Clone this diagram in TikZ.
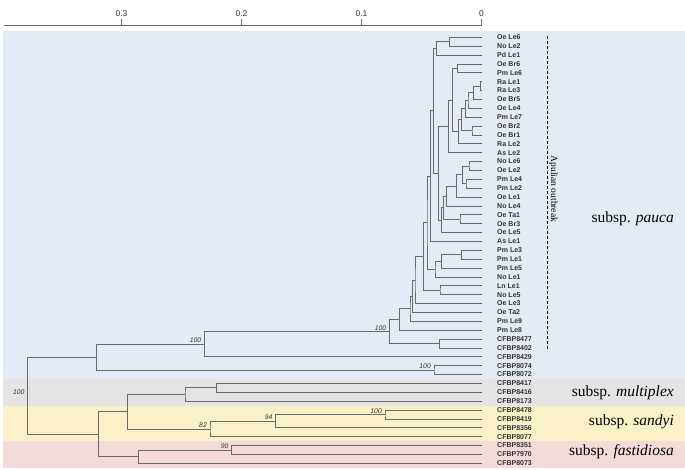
\documentclass[tikz,border=0pt]{standalone}
\usepackage{fontspec}
\setmainfont{Liberation Serif}
\setsansfont{Liberation Sans}
\usepackage{tikz}
\usetikzlibrary{calc}
\definecolor{paucablue}{HTML}{E4EBF7}
\definecolor{multigray}{HTML}{E4E4E4}
\definecolor{sandyellow}{HTML}{FAF1C9}
\definecolor{fastpink}{HTML}{F4DADA}
\definecolor{branchgray}{HTML}{6A6A6A}
\definecolor{labelgray}{HTML}{333333}
\tikzset{
  branch/.style={draw=branchgray, line width=0.8pt},
  leaf/.style={anchor=west, inner sep=0pt, text=labelgray,
    font=\sffamily\bfseries\fontsize{7}{7}\selectfont},
  boot/.style={anchor=south east, inner sep=1pt, xshift=-2pt, text=labelgray,
    font=\sffamily\itshape\fontsize{6.8}{7}\selectfont},
  subsp/.style={anchor=east, inner sep=0pt, font=\fontsize{15.5}{17}\selectfont},
  axis/.style={draw=branchgray, line width=0.8pt},
  axislab/.style={text=labelgray, inner sep=2pt, font=\sffamily\fontsize{8.5}{9}\selectfont},
  outbreak/.style={draw=black, line width=0.8pt, dash pattern=on 3pt off 2pt}
}
% clade: name, x of the node, upper child, lower child
\newcommand{\clade}[4]{%
  \path (#3) -- coordinate (#1m) (#4);
  \coordinate (#1) at (#1m -| #2,0);
  \draw[branch] (#3) -| (#1) |- (#4);}

\begin{document}
\begin{tikzpicture}[x=1pt, y=-1pt]
  \useasboundingbox (0,0) rectangle (685,470);
  % subspecies bands
  \fill[paucablue] (2.7,31) rectangle (685,379.3);
  \fill[multigray] (2.7,379.3) rectangle (685,406);
  \fill[sandyellow] (2.7,406) rectangle (685,441);
  \fill[fastpink] (2.7,441) rectangle (685,468.3);

  % scale
  \coordinate (axl) at (4.4,25);
  \coordinate (axr) at (481.5,25);
  \draw[axis] (axl) -- (axr);
  \foreach \v [count=\k] in {0,0.1,0.2,0.3}
    \draw[axis] ({481.5-1200*\v},25) coordinate (tk\k) -- ++(0,-6)
      node[axislab, above] (tl\k) {\v};

  % leaves
  \foreach \name [count=\i from 0] in {Oe Le6, No Le2, Pd Le1, Oe Br6, Pm Le6,
      Ra Le1, Ra Le3, Oe Br5, Oe Le4, Pm Le7, Oe Br2, Oe Br1, Ra Le2, As Le2,
      No Le6, Oe Le2, Pm Le4, Pm Le2, Oe Le1, No Le4, Oe Ta1, Oe Br3, Oe Le5,
      As Le1, Pm Le3, Pm Le1, Pm Le5, No Le1, Ln Le1, No Le5, Oe Le3, Oe Ta2,
      Pm Le9, Pm Le8, CFBP8477, CFBP8402, CFBP8429, CFBP8074, CFBP8072,
      CFBP8417, CFBP8416, CFBP8173, CFBP8478, CFBP8419, CFBP8356, CFBP8077,
      CFBP8351, CFBP7970, CFBP8073}{
    \coordinate (t\i) at (481.5, {37.3+8.875*\i});
    \node[leaf] (leaf\i) at (497, {37.3+8.875*\i}) {\name};
  }

  % subsp. pauca
  \clade{pa1}{449.3}{t0}{t1}
  \clade{pa2}{436.7}{pa1}{t2}
  \clade{pa3}{457.3}{t3}{t4}
  \clade{pa4}{480.5}{t5}{t6}
  \clade{pa5}{473.3}{pa4}{t7}
  \clade{pa6}{468}{pa5}{t8}
  \clade{pa7}{465.5}{pa6}{t9}
  \clade{pa8}{472}{t10}{t11}
  \clade{pa9}{461.7}{pa7}{pa8}
  \clade{pa10}{458.3}{pa9}{t12}
  \clade{pa11}{452.7}{pa3}{pa10}
  \clade{pa12}{448.3}{pa11}{t13}
  \clade{pa13}{469}{t14}{t15}
  \clade{pa14}{466}{t16}{t17}
  \clade{pa15}{462.7}{pa13}{pa14}
  \clade{pa16}{456.7}{pa15}{t18}
  \clade{pa17}{446.7}{pa16}{t19}
  \clade{pa18}{460}{t20}{t21}
  \clade{pa19}{443.3}{pa17}{pa18}
  \clade{pa20}{441.7}{pa19}{t22}
  \clade{pa21}{438.5}{pa12}{pa20}
  \clade{pa22}{433.3}{pa2}{pa21}
  \clade{pa23}{430.7}{pa22}{t23}
  \clade{pa24}{461.7}{t24}{t25}
  \clade{pa25}{441.7}{pa24}{t26}
  \clade{pa26}{435}{pa25}{t27}
  \clade{pa27}{427}{pa23}{pa26}
  \clade{pa28}{440}{t28}{t29}
  \clade{pa29}{423.3}{pa27}{pa28}
  \clade{pa30}{415}{pa29}{t30}
  \clade{pa31}{412.7}{pa30}{t31}
  \clade{pa32}{410}{pa31}{t32}
  \clade{pa33}{399.3}{pa32}{t33}
  \clade{pa34}{439.3}{t34}{t35}
  \clade{pa35}{389.3}{pa33}{pa34}
  \clade{pa36}{204.3}{pa35}{t36}
  \clade{pa37}{434}{t37}{t38}
  \clade{pa38}{96.3}{pa36}{pa37}
  % subsp. multiplex
  \clade{mu1}{216.7}{t39}{t40}
  \clade{mu2}{185}{mu1}{t41}
  % subsp. sandyi
  \clade{sa1}{385}{t42}{t43}
  \clade{sa2}{275.7}{sa1}{t44}
  \clade{sa3}{210}{sa2}{t45}
  \clade{ms}{127.7}{mu2}{sa3}
  % subsp. fastidiosa
  \clade{fa1}{231.7}{t46}{t47}
  \clade{fa2}{138.3}{fa1}{t48}
  \clade{low}{98.7}{ms}{fa2}
  \clade{root}{27.7}{pa38}{low}

  % bootstrap values
  \node[boot] (bs1) at (root) {100};
  \node[boot] (bs2) at (pa36) {100};
  \node[boot] (bs3) at (pa35) {100};
  \node[boot] (bs4) at (pa37) {100};
  \node[boot] (bs5) at (sa3) {82};
  \node[boot] (bs6) at (sa2) {94};
  \node[boot] (bs7) at (sa1) {100};
  \node[boot] (bs8) at (fa1) {90};

  % outbreak bracket
  \coordinate (obtop) at (547,36);
  \coordinate (obbot) at (547,351);
  \draw[outbreak] (obtop) -- (obbot);
  \node[rotate=-90, inner sep=0pt, font=\fontsize{9.5}{10}\selectfont] (apulian) at (553.5,189) {Apulian outbreak};

  % subspecies names
  \node[subsp] (pauca) at (674,218.3) {subsp. \textit{pauca}};
  \node[subsp] (multiplex) at (674,393) {subsp. \textit{multiplex}};
  \node[subsp] (sandyi) at (674,422) {subsp. \textit{sandyi}};
  \node[subsp] (fastidiosa) at (674,452) {subsp. \textit{fastidiosa}};
\end{tikzpicture}
\end{document}
